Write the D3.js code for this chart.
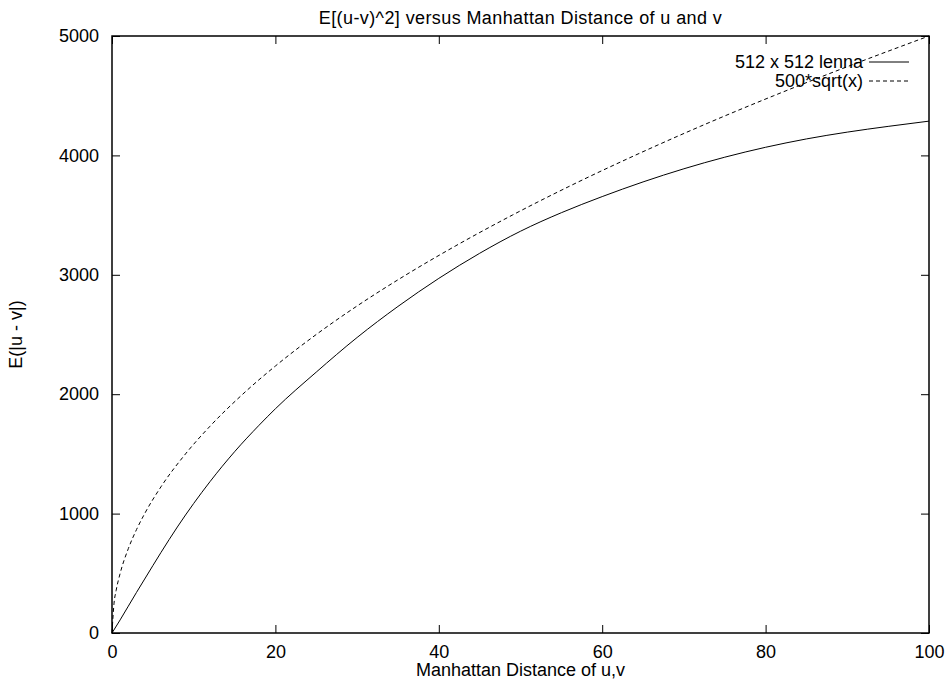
<!DOCTYPE html>
<html>
<head>
<meta charset="utf-8">
<script src="https://cdn.jsdelivr.net/npm/d3@7"></script>
<style>
  body { margin: 0; background: #fff; }
  svg { display: block; font-family: "Liberation Sans", Arial, sans-serif; }
  .axis text { font-size: 18px; fill: #000; }
  .axis line { stroke: #000; stroke-width: 1; }
  .axis path { display: none; }
</style>
</head>
<body>
<svg id="chart" width="946" height="679"></svg>
<script>
// values
const distances = [0, 1, 2, 3, 4, 6, 8, 10, 12, 15, 18, 20, 25, 30, 35, 40, 45, 50, 55, 60, 65, 70, 75, 80, 85, 90, 95, 100];
const lennaValues = [0, 110, 225, 340, 452, 675, 888, 1085, 1268, 1518, 1740, 1878, 2185, 2475, 2735, 2970, 3180, 3365, 3520, 3655, 3778, 3888, 3985, 4068, 4138, 4195, 4243, 4287];

const sqrtX = [0, 0.25, 0.5, 1, 2, 3, 4, 6, 9, 12, 16, 20, 25, 30, 36, 42, 49, 56, 64, 72, 81, 90, 100];
const sqrtValues = [0, 250, 354, 500, 707, 866, 1000, 1225, 1500, 1732, 2000, 2236, 2500, 2739, 3000, 3240, 3500, 3742, 4000, 4243, 4500, 4743, 5000];

const xTicks = [0, 20, 40, 60, 80, 100];
const yTicks = [0, 1000, 2000, 3000, 4000, 5000];

const margin = { top: 36, right: 17, bottom: 46, left: 112 };
const width = 946 - margin.left - margin.right;
const height = 679 - margin.top - margin.bottom;

const xScale = d3.scaleLinear().domain([0, 100]).range([0, width]);
const yScale = d3.scaleLinear().domain([0, 5000]).range([height, 0]);

const svg = d3.select('#chart');
const g = svg.append('g').attr('transform', `translate(${margin.left}, ${margin.top})`);

// title and axis labels
svg.append('text')
  .attr('x', margin.left + width / 2)
  .attr('y', 24)
  .attr('text-anchor', 'middle')
  .style('font-size', '18px')
  .style('letter-spacing', '0.4px')
  .text('E[(u-v)^2] versus Manhattan Distance of u and v');

svg.append('text')
  .attr('x', margin.left + width / 2)
  .attr('y', 676)
  .attr('text-anchor', 'middle')
  .style('font-size', '18px')
  .text('Manhattan Distance of u,v');

svg.append('text')
  .attr('transform', `translate(22, ${margin.top + height / 2}) rotate(-90)`)
  .attr('text-anchor', 'middle')
  .style('font-size', '18px')
  .text('E(|u - v|)');

// axes with inward ticks, mirrored on top and right
g.append('g')
  .attr('class', 'axis')
  .attr('transform', `translate(0, ${height})`)
  .call(d3.axisBottom(xScale).tickValues(xTicks).tickSize(-8).tickPadding(12));

g.append('g')
  .attr('class', 'axis')
  .call(d3.axisTop(xScale).tickValues(xTicks).tickSize(-8).tickFormat(''));

g.append('g')
  .attr('class', 'axis')
  .call(d3.axisLeft(yScale).tickValues(yTicks).tickSize(-8).tickPadding(13).tickFormat(d3.format('d')));

g.append('g')
  .attr('class', 'axis')
  .attr('transform', `translate(${width}, 0)`)
  .call(d3.axisRight(yScale).tickValues(yTicks).tickSize(-8).tickFormat(''));

g.append('rect')
  .attr('width', width)
  .attr('height', height)
  .attr('fill', 'none')
  .attr('stroke', '#000')
  .attr('stroke-width', 1.5);

// legend
const legend = [
  { label: '512 x 512 lenna', dash: null },
  { label: '500*sqrt(x)', dash: '4,3' },
];
const lg = g.selectAll('.legend')
  .data(legend)
  .enter()
  .append('g')
  .attr('class', 'legend')
  .attr('transform', (d, i) => `translate(0, ${26 + i * 19})`);

lg.append('text')
  .attr('x', 751)
  .attr('dy', '0.35em')
  .attr('text-anchor', 'end')
  .style('font-size', '18px')
  .text(d => d.label);

lg.append('line')
  .attr('x1', 757)
  .attr('x2', 797)
  .attr('stroke', '#000')
  .attr('stroke-width', 1)
  .attr('stroke-dasharray', d => d.dash);

// curves
const line = d3.line()
  .x(d => xScale(d[0]))
  .y(d => yScale(d[1]))
  .curve(d3.curveMonotoneX);

g.append('path')
  .datum(distances.map((d, i) => [d, lennaValues[i]]))
  .attr('fill', 'none')
  .attr('stroke', '#000')
  .attr('stroke-width', 1)
  .attr('d', line);

g.append('path')
  .datum(sqrtX.map((d, i) => [d, sqrtValues[i]]))
  .attr('fill', 'none')
  .attr('stroke', '#000')
  .attr('stroke-width', 1)
  .attr('stroke-dasharray', '4,3')
  .attr('d', line);
</script>
</body>
</html>
